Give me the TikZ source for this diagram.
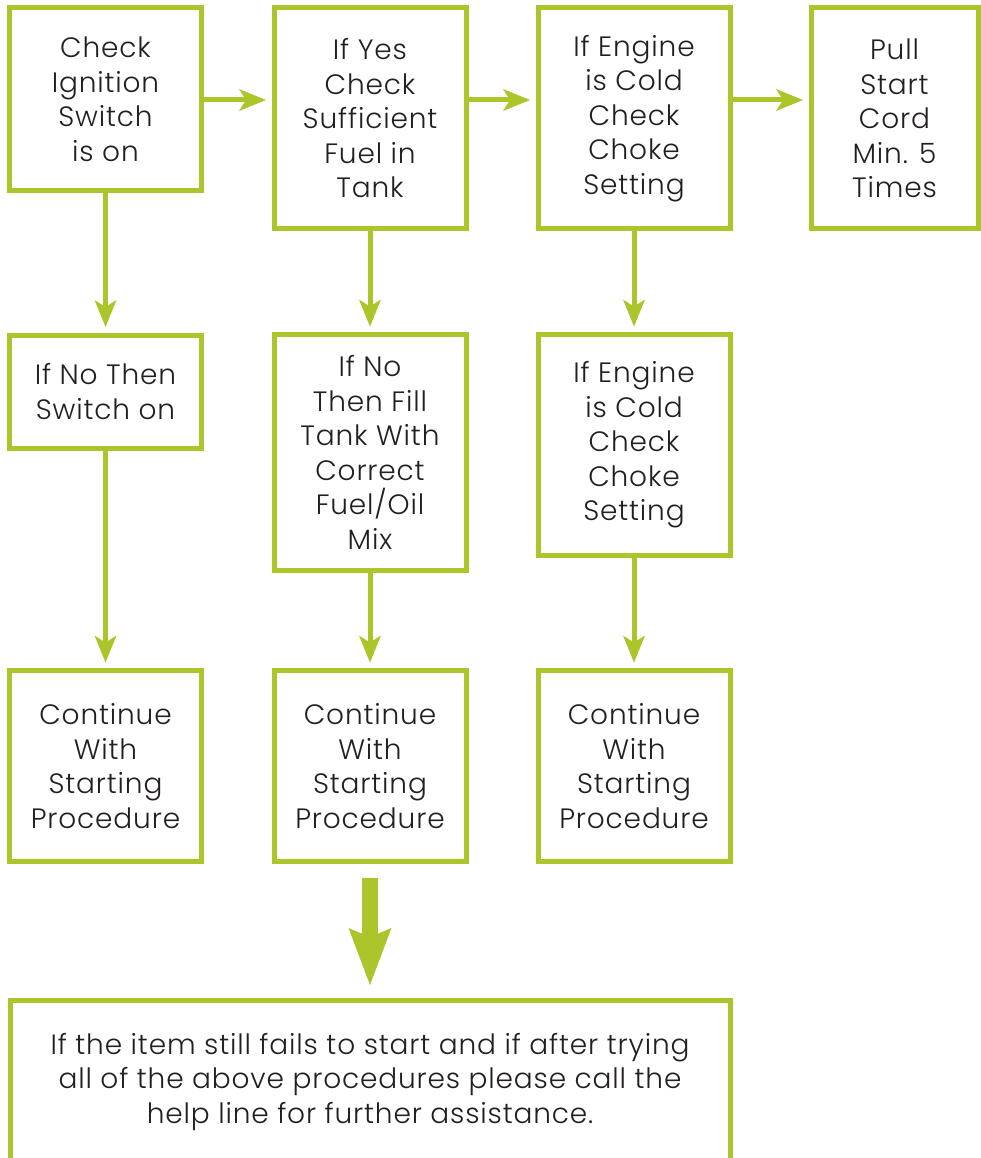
\documentclass[tikz,border=0pt]{standalone}
\usepackage{fontspec}
\setmainfont{Poppins}[UprightFont={* Light}, LetterSpace=3]
\usetikzlibrary{arrows.meta}
\definecolor{leaf}{RGB}{171,197,42}
\definecolor{ink}{RGB}{35,31,32}

\begin{document}
\begin{tikzpicture}[
  x=1pt, y=-1pt,
  box/.style={draw=leaf, line width=5pt, inner sep=0pt, outer sep=0pt,
    minimum width=192pt, align=center, text=ink,
    font=\fontsize{28}{34.5}\selectfont},
  flow/.style={draw=leaf, line width=5pt, shorten >=8pt,
    -{Stealth[length=27pt, width=22pt, inset=7pt, line width=0pt]}},
  bigflow/.style={draw=leaf, line width=16pt,
    -{Stealth[length=57pt, width=43pt, inset=9pt, line width=0pt]}},
]
  \useasboundingbox (0,0) rectangle (981,1158);

  % top row
  \node[box, minimum height=183pt] (ignition) at (105.5,99.5)
    {Check\\Ignition\\Switch\\is on};
  \node[box, minimum height=221pt] (fuel) at (370,118.5)
    {If Yes\\Check\\Sufficient\\Fuel in\\Tank};
  \node[box, minimum height=221pt] (choke) at (634,118.5)
    {If Engine\\is Cold\\Check\\Choke\\Setting};
  \node[box, minimum width=167pt, minimum height=221pt] (cord) at (894.5,118.5)
    {Pull\\Start\\Cord\\Min. 5\\Times};

  % middle row
  \node[box, minimum height=113pt] (switchon) at (105.5,391.5)
    {If No Then\\Switch on};
  \node[box, minimum height=236pt] (filltank) at (370,452.5)
    {If No\\Then Fill\\Tank With\\Correct\\Fuel/Oil\\Mix};
  \node[box, minimum height=221pt] (choketwo) at (634,445)
    {If Engine\\is Cold\\Check\\Choke\\Setting};

  % bottom row
  \node[box, minimum height=191pt] (contone) at (105.5,766)
    {Continue\\With\\Starting\\Procedure};
  \node[box, minimum height=191pt] (conttwo) at (370,766)
    {Continue\\With\\Starting\\Procedure};
  \node[box, minimum height=191pt] (contthree) at (634,766)
    {Continue\\With\\Starting\\Procedure};

  \node[box, minimum width=720pt, minimum height=164pt] (helpline) at (370,1082)
    {If the item still fails to start and if after trying\\
     all of the above procedures please call the\\
     help line for further assistance.};

  % arrows
  \draw[flow] (ignition.east |- 0,100) -- (fuel.west |- 0,100);
  \draw[flow] (fuel.east |- 0,100) -- (choke.west |- 0,100);
  \draw[flow] (choke.east |- 0,100) -- (cord.west |- 0,100);

  \draw[flow] (ignition) -- (switchon);
  \draw[flow] (fuel) -- (filltank);
  \draw[flow] (choke) -- (choketwo);
  \draw[flow] (switchon) -- (contone);
  \draw[flow] (filltank) -- (conttwo);
  \draw[flow] (choketwo) -- (contthree);

  \coordinate (bigtop) at (370,878);
  \coordinate (bigtip) at (370,985);
  \draw[bigflow] (bigtop) -- (bigtip);
\end{tikzpicture}
\end{document}
